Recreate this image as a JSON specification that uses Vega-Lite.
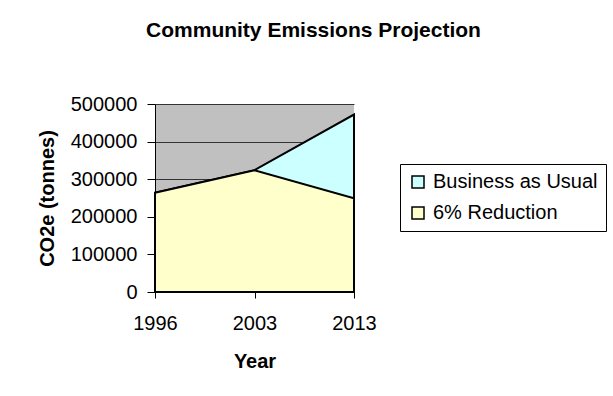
{
  "$schema": "https://vega.github.io/schema/vega-lite/v6.json",
  "width": 199,
  "height": 188,
  "autosize": {"type": "none"},
  "padding": {"left": 155, "top": 104, "right": 259, "bottom": 104},
  "background": "white",
  "title": {
    "text": "Community Emissions Projection",
    "font": "Liberation Sans",
    "fontSize": 21,
    "fontWeight": "bold",
    "color": "black",
    "anchor": "middle",
    "frame": "group",
    "dx": 59,
    "offset": 53
  },
  "config": {
    "view": {"fill": "#C0C0C0", "stroke": null},
    "font": "Liberation Sans"
  },
  "data": {
    "values": [
      {"year": "1996", "series": "Business as Usual", "value": 264000},
      {"year": "2003", "series": "Business as Usual", "value": 324000},
      {"year": "2013", "series": "Business as Usual", "value": 472000},
      {"year": "1996", "series": "6% Reduction", "value": 264000},
      {"year": "2003", "series": "6% Reduction", "value": 324000},
      {"year": "2013", "series": "6% Reduction", "value": 249000}
    ]
  },
  "encoding": {
    "x": {
      "field": "year",
      "type": "ordinal",
      "sort": null,
      "scale": {"type": "point", "padding": 0},
      "axis": {
        "title": "Year",
        "labelAngle": 0,
        "labelFont": "Liberation Sans",
        "labelFontSize": 20,
        "labelColor": "black",
        "labelPadding": 15,
        "tickSize": 6,
        "tickColor": "black",
        "domainColor": "black",
        "grid": false,
        "titleFont": "Liberation Sans",
        "titleFontSize": 20,
        "titleFontWeight": "bold",
        "titleColor": "black",
        "titlePadding": 18
      }
    },
    "y": {
      "field": "value",
      "type": "quantitative",
      "stack": null,
      "scale": {"domain": [0, 500000], "nice": false},
      "axis": {
        "title": "CO2e (tonnes)",
        "values": [0, 100000, 200000, 300000, 400000, 500000],
        "format": "d",
        "labelFont": "Liberation Sans",
        "labelFontSize": 20,
        "labelColor": "black",
        "labelPadding": 10,
        "tickSize": 8,
        "tickColor": "black",
        "domainColor": "black",
        "grid": true,
        "gridColor": "#333333",
        "gridWidth": 1,
        "titleFont": "Liberation Sans",
        "titleFontSize": 20,
        "titleFontWeight": "bold",
        "titleColor": "black",
        "titlePadding": 13
      }
    },
    "color": {
      "field": "series",
      "type": "nominal",
      "scale": {
        "domain": ["Business as Usual", "6% Reduction"],
        "range": ["#CCFFFF", "#FFFFCC"]
      },
      "legend": {
        "title": null,
        "orient": "none",
        "legendX": 245,
        "legendY": 60,
        "padding": 8,
        "rowPadding": 11,
        "labelOffset": 5,
        "labelLimit": 0,
        "labelFont": "Liberation Sans",
        "labelFontSize": 20,
        "labelColor": "black",
        "symbolType": "square",
        "symbolSize": 144,
        "symbolStrokeColor": "black",
        "symbolStrokeWidth": 1.5,
        "symbolOpacity": 1,
        "strokeColor": "black",
        "fillColor": "white"
      }
    }
  },
  "layer": [
    {
      "transform": [{"filter": "datum.series === 'Business as Usual'"}],
      "mark": {"type": "area", "stroke": "black", "strokeWidth": 2, "opacity": 1}
    },
    {
      "transform": [{"filter": "datum.series === '6% Reduction'"}],
      "mark": {"type": "area", "stroke": "black", "strokeWidth": 2, "opacity": 1}
    }
  ]
}
